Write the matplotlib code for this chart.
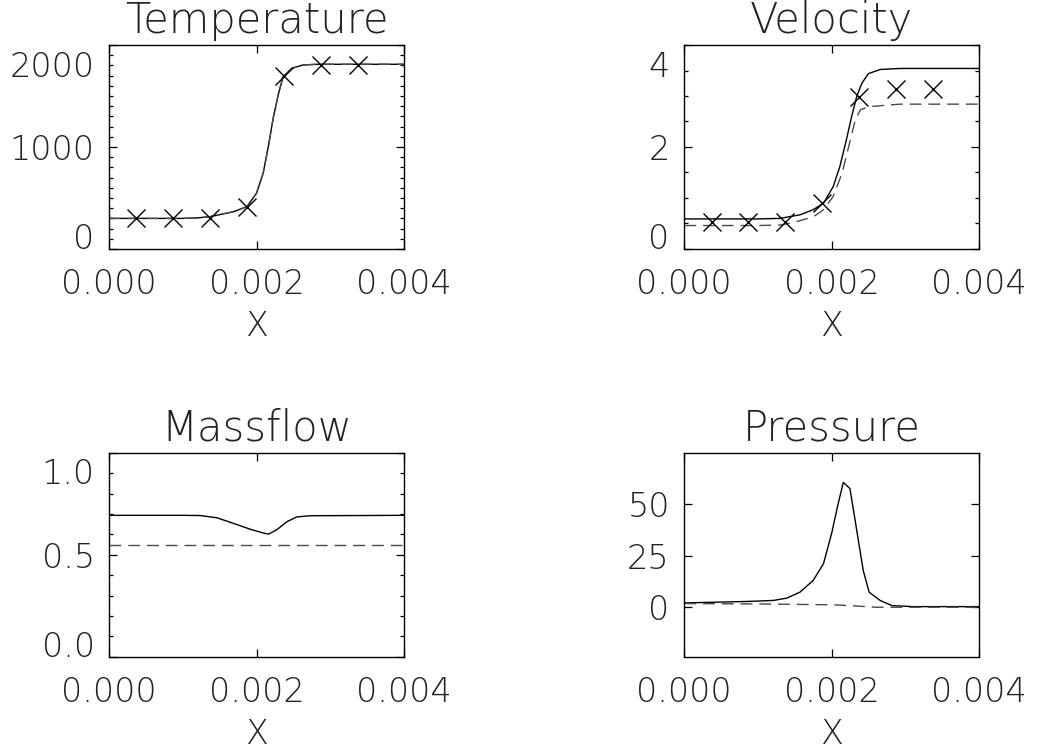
import matplotlib
matplotlib.use("Agg")
import matplotlib.pyplot as plt
from matplotlib.transforms import offset_copy

# ---- shock profile data -------------------------------------------------
x_markers = [0.00037, 0.00087, 0.00137, 0.00187, 0.00237, 0.00287, 0.00337]
temp_markers = [300, 300, 300, 410, 1700, 1800, 1800]
vel_markers = [0.52, 0.52, 0.52, 0.90, 2.99, 3.13, 3.13]

temp_x = [0.0, 0.0010, 0.0012, 0.00137, 0.00169, 0.00187, 0.00200, 0.00209,
          0.00216, 0.00223, 0.00230, 0.00236, 0.00248, 0.00263, 0.00282, 0.0040]
temp_solid = [300, 300, 305, 317, 366, 415, 546, 742,
              1003, 1297, 1527, 1689, 1772, 1804, 1811, 1811]
temp_dashed = [300, 300, 305, 317, 366, 415, 546, 742,
               1003, 1297, 1527, 1689, 1772, 1804, 1811, 1811]

vel_x = [0.0, 0.00100, 0.00130, 0.00157, 0.00175, 0.00189, 0.00202, 0.00211,
         0.00220, 0.00227, 0.00234, 0.00241, 0.00250, 0.00266, 0.00293, 0.0040]
vel_solid = [0.59, 0.59, 0.60, 0.67, 0.77, 0.90, 1.22, 1.61,
             2.14, 2.59, 2.99, 3.25, 3.44, 3.52, 3.54, 3.54]
veld_x = [0.0, 0.00100, 0.00130, 0.00148, 0.00175, 0.00189, 0.00202, 0.00214,
          0.00223, 0.00232, 0.00239, 0.00250, 0.00275, 0.00293, 0.0040]
vel_dashed = [0.46, 0.46, 0.47, 0.52, 0.63, 0.77, 1.03, 1.48,
              2.00, 2.53, 2.73, 2.79, 2.82, 2.84, 2.84]

mf_x = [0.0, 0.00100, 0.00123, 0.00146, 0.00168, 0.00191, 0.00209, 0.00216,
        0.00227, 0.00241, 0.00254, 0.00272, 0.0040]
mf_solid = [0.693, 0.693, 0.692, 0.681, 0.654, 0.625, 0.606, 0.601,
            0.622, 0.662, 0.685, 0.691, 0.693]
mfd_x = [0.0, 0.0040]
mf_dashed = [0.549, 0.549]

p_x = [0.0, 0.00085, 0.00121, 0.00139, 0.00157, 0.00175, 0.00189, 0.00200, 0.00209,
       0.00216, 0.00225, 0.00232, 0.00243, 0.00251, 0.00266, 0.00282, 0.00311, 0.0040]
p_solid = [2.1, 2.8, 3.3, 4.4, 7.3, 13.0, 21.1, 35.7, 50.3,
           60.6, 57.6, 42.2, 17.9, 7.3, 3.3, 0.8, 0.3, 0.3]
pd_x = [0.0, 0.0010, 0.0020, 0.00225, 0.0026, 0.0040]
p_dashed = [1.8, 1.6, 1.2, 0.8, 0.0, 0.0]

x_ticks = [0.0, 0.002, 0.004]
x_ticklabels = ["0.000", "0.002", "0.004"]

FONT = dict(family="DejaVu Sans", weight=200)
INK = "black"
TXT = "#222222"
DASH_INK = "#4a4a4a"
LW = 1.0
DASHES = (8.5, 5.0)
TICK_SIZE = 24
TITLE_SIZE = 30

fig = plt.figure(figsize=(10.37, 7.53), dpi=100)
W, H = 1037.0, 753.0


def make_axes(left, bottom_px, width):
    return fig.add_axes([left / W, 1 - bottom_px / H, width / W, 204.0 / H])


def style_axes(ax, title, ylim, yticks, ylabels, valigns, minor=None):
    ax.set_xlim(0, 0.004)
    ax.set_ylim(*ylim)
    ax.set_xticks(x_ticks)
    ax.set_xticklabels(x_ticklabels, fontdict=dict(size=TICK_SIZE, **FONT))
    ax.set_yticks(yticks)
    ax.set_yticklabels([])
    if minor is not None:
        ax.set_yticks(minor, minor=True)
    ax.tick_params(axis="both", which="major", direction="in", length=5.5,
                   width=0.9, top=True, right=True, colors=INK, pad=14)
    ax.tick_params(axis="y", which="minor", direction="in", length=3,
                   width=0.9, left=True, right=True)
    ax.tick_params(axis="x", which="minor", bottom=False, top=False)
    for s in ax.spines.values():
        s.set_linewidth(1.0)
        s.set_color(INK)
    ax.set_title(title, fontdict=dict(size=TITLE_SIZE, **FONT), pad=8.5, color=TXT)
    ax.set_xlabel("X", fontdict=dict(size=TICK_SIZE, **FONT), labelpad=6.5, color=TXT)
    for lab in ax.get_xticklabels():
        lab.set_color(TXT)
    for v, txt, va in zip(yticks, ylabels, valigns):
        dy = -4.0 if va == "top" else 0.0
        tr = offset_copy(ax.get_yaxis_transform(), fig=fig, x=-10.5, y=dy, units="points")
        ax.text(0, v, txt, transform=tr, ha="right", va=va, size=TICK_SIZE,
                color=TXT, **FONT)


# Temperature
ax = make_axes(109, 249, 295)
ax.plot(temp_x, temp_solid, color=INK, lw=LW)
ax.plot(temp_x, temp_dashed, color=DASH_INK, lw=LW, dashes=DASHES)
ax.plot(x_markers, temp_markers, ls="none", marker="x", ms=12.5, mew=1.0, color=INK)
style_axes(ax, "Temperature", (0, 2000), [0, 1000, 2000], ["0", "1000", "2000"],
           ["baseline", "center_baseline", "top"],
           minor=[v * 100 for v in range(21)])

# Velocity
ax = make_axes(684.3, 249, 294.7)
ax.plot(vel_x, vel_solid, color=INK, lw=LW)
ax.plot(veld_x, vel_dashed, color=DASH_INK, lw=LW, dashes=DASHES)
ax.plot(x_markers, vel_markers, ls="none", marker="x", ms=12.5, mew=1.0, color=INK)
style_axes(ax, "Velocity", (0, 4), [0, 2, 4], ["0", "2", "4"],
           ["baseline", "center_baseline", "top"],
           minor=[v * 0.5 for v in range(9)])

# Massflow
ax = make_axes(109.3, 656.7, 295)
ax.plot(mf_x, mf_solid, color=INK, lw=LW)
ax.plot(mfd_x, mf_dashed, color=DASH_INK, lw=LW, dashes=DASHES)
style_axes(ax, "Massflow", (0, 1), [0, 0.5, 1.0], ["0.0", "0.5", "1.0"],
           ["baseline", "center_baseline", "top"],
           minor=[v * 0.1 for v in range(11)])

# Pressure
ax = make_axes(684.3, 656.7, 294.5)
ax.plot(p_x, p_solid, color=INK, lw=LW)
ax.plot(pd_x, p_dashed, color=DASH_INK, lw=LW, dashes=DASHES)
style_axes(ax, "Pressure", (-24, 75), [0, 25, 50], ["0", "25", "50"],
           ["center_baseline", "center_baseline", "center_baseline"])

fig.savefig("out.png", dpi=100, facecolor="white")
